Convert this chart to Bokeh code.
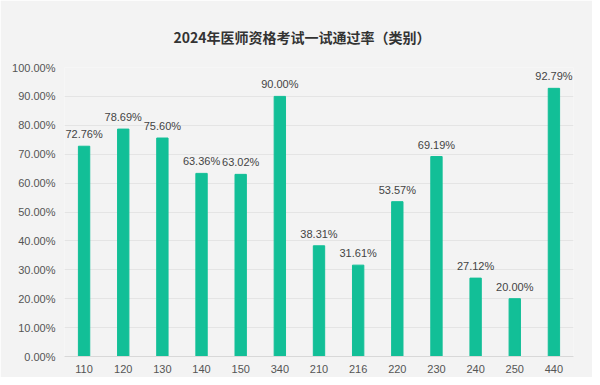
from bokeh.plotting import figure
from bokeh.models import ColumnDataSource, FactorRange, Range1d, PrintfTickFormatter, FixedTicker
from bokeh.embed import file_html
from bokeh.resources import INLINE
from bokeh.core.properties import value

categories = ["110", "120", "130", "140", "150", "340", "210", "216", "220", "230", "240", "250", "440"]
rates = [72.76, 78.69, 75.60, 63.36, 63.02, 90.00, 38.31, 31.61, 53.57, 69.19, 27.12, 20.00, 92.79]
labels = ["%.2f%%" % v for v in rates]
y_ticks = [0, 10, 20, 30, 40, 50, 60, 70, 80, 90, 100]

src = ColumnDataSource(dict(cat=categories, rate=rates, label=labels))

bg = "#f3f3f3"
p = figure(width=592, height=377, output_backend="svg", toolbar_location=None,
           x_range=FactorRange(*categories, range_padding=0), y_range=Range1d(0, 100),
           title="2024年医师资格考试一试通过率（类别）",
           min_border_left=64, min_border_right=19, min_border_top=67, min_border_bottom=21)
p.background_fill_color = bg
p.border_fill_color = bg
p.outline_line_color = None

p.title.align = "left"
p.title.offset = 109
p.title.text_font = "Noto Sans CJK SC"
p.title.text_font_size = "14px"
p.title.text_font_style = "bold"
p.title.text_color = "#333333"
p.title.standoff = 42

p.vbar(x="cat", top="rate", width=0.29, source=src, color="#12bf97")
p.text(x="cat", y="rate", text="label", source=src, text_align="center", text_baseline="bottom",
       y_offset=-6, text_font=value("Liberation Sans"), text_font_size="11px", text_color="#444444")

p.yaxis.ticker = FixedTicker(ticks=y_ticks)
p.yaxis.formatter = PrintfTickFormatter(format="%.2f%%")
for ax in (p.xaxis[0], p.yaxis[0]):
    ax.major_label_text_font = "Liberation Sans"
    ax.major_label_text_font_size = "11px"
    ax.major_label_text_color = "#555555"
    ax.major_tick_line_color = None
    ax.minor_tick_line_color = None
p.yaxis.axis_line_color = None
p.yaxis.major_label_standoff = 3
p.xaxis.axis_line_color = "#d8d8d8"
p.xaxis.major_label_standoff = 2
p.xgrid.grid_line_color = None
p.ygrid.grid_line_color = "#e4e4e4"

open("out.html", "w").write(file_html(p, INLINE))
